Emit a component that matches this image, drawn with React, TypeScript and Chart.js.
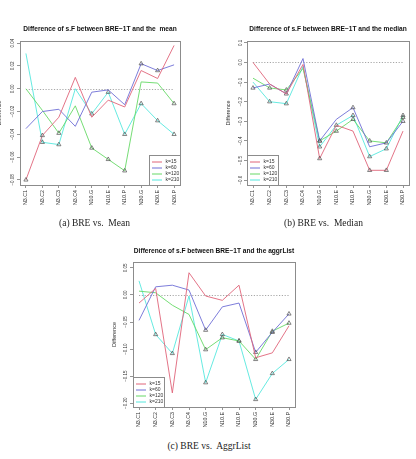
import React, { useEffect, useRef } from "react";
import { Chart, registerables } from "chart.js";

Chart.register(...registerables);

// Shared categories and series
const categories = ["N3.C1", "N3.C2", "N3.C3", "N3.C4", "N10.G", "N10.E", "N10.P", "N30.G", "N30.E", "N30.P"];
const seriesLabels = ["k=15", "k=60", "k=120", "k=210"];

// (a) difference against the mean
const meanK15 = [-0.080, -0.041, -0.025, 0.010, -0.025, -0.010, -0.016, 0.016, 0.009, 0.038];
const meanK60 = [-0.035, -0.020, -0.018, -0.033, -0.003, -0.001, -0.014, 0.022, 0.016, 0.021];
const meanK120 = [0.000, -0.019, -0.039, -0.015, -0.052, -0.062, -0.072, 0.006, 0.005, -0.013];
const meanK210 = [0.031, -0.047, -0.049, 0.000, -0.022, -0.003, -0.040, -0.013, -0.028, -0.040];
const meanMarks = [
  [1, 1, 0, 0, 0, 0, 0, 0, 0, 0],
  [0, 0, 0, 0, 0, 0, 0, 1, 1, 0],
  [0, 0, 1, 0, 1, 1, 1, 0, 0, 1],
  [0, 1, 1, 0, 1, 1, 1, 1, 1, 1],
];
const meanTicks = [-0.08, -0.06, -0.04, -0.02, 0, 0.02, 0.04];

// (b) difference against the median
const medianK15 = [0.00, -0.11, -0.16, -0.01, -0.49, -0.32, -0.35, -0.55, -0.55, -0.35];
const medianK60 = [-0.13, -0.11, -0.16, 0.02, -0.40, -0.29, -0.23, -0.43, -0.41, -0.30];
const medianK120 = [-0.08, -0.13, -0.14, -0.03, -0.40, -0.35, -0.29, -0.40, -0.41, -0.28];
const medianK210 = [-0.10, -0.20, -0.21, -0.02, -0.43, -0.32, -0.27, -0.48, -0.44, -0.27];
const medianMarks = [
  [0, 0, 0, 0, 1, 0, 0, 1, 1, 0],
  [1, 0, 1, 0, 1, 0, 1, 0, 1, 1],
  [0, 1, 1, 0, 1, 1, 1, 1, 0, 1],
  [0, 1, 1, 0, 1, 1, 1, 1, 1, 1],
];
const medianTicks = [-0.6, -0.5, -0.4, -0.3, -0.2, -0.1, 0, 0.1];

// (c) difference against the aggregated list
const aggrK15 = [-0.015, 0.012, -0.181, 0.041, -0.002, -0.010, 0.018, -0.116, -0.107, -0.057];
const aggrK60 = [-0.047, 0.015, 0.018, 0.009, -0.065, -0.022, -0.015, -0.106, -0.069, -0.035];
const aggrK120 = [0.007, 0.004, -0.019, -0.036, -0.101, -0.079, -0.085, -0.119, -0.067, -0.052];
const aggrK210 = [0.026, -0.073, -0.108, -0.002, -0.162, -0.073, -0.085, -0.193, -0.145, -0.119];
const aggrMarks = [
  [0, 0, 0, 0, 0, 0, 0, 0, 0, 0],
  [0, 0, 0, 0, 1, 0, 0, 1, 1, 1],
  [0, 0, 0, 0, 1, 1, 1, 1, 1, 1],
  [0, 1, 1, 0, 1, 1, 1, 1, 1, 1],
];
const aggrTicks = [-0.2, -0.15, -0.1, -0.05, 0, 0.05];

const seriesColors = ["#e06479", "#6e6ed6", "#66d966", "#55e8de"];
const SANS = "'Liberation Sans', Arial, sans-serif";
const SERIF = "'Liberation Serif', 'Times New Roman', serif";

function fmt(v: number, d: number): string {
  const s = Math.abs(v) < 1e-9 ? (0).toFixed(d) : v.toFixed(d);
  return s.replace("-", "\u2212");
}

// Box around the plotting region
const framePlugin = {
  id: "frame",
  afterDraw(chart: any) {
    const { ctx, chartArea: a } = chart;
    ctx.save();
    ctx.strokeStyle = "#8c8c8c";
    ctx.lineWidth = 1;
    ctx.strokeRect(Math.round(a.left) + 0.5, Math.round(a.top) + 0.5, Math.round(a.right - a.left), Math.round(a.bottom - a.top));
    ctx.restore();
  },
};

// Dotted reference line at zero, spanning the categories
const zeroLinePlugin = {
  id: "zeroLine",
  beforeDatasetsDraw(chart: any) {
    const { ctx, scales } = chart;
    const y = Math.round(scales.y.getPixelForValue(0)) + 0.5;
    ctx.save();
    ctx.strokeStyle = "#909090";
    ctx.lineWidth = 0.8;
    ctx.setLineDash([1.2, 1.6]);
    ctx.beginPath();
    ctx.moveTo(scales.x.getPixelForValue(0), y);
    ctx.lineTo(scales.x.getPixelForValue(categories.length - 1), y);
    ctx.stroke();
    ctx.restore();
  },
};

// Boxed legend placed in a corner of the plotting region
const boxLegendPlugin = {
  id: "boxLegend",
  afterDatasetsDraw(chart: any, _args: any, opts: any) {
    const { ctx, chartArea: a } = chart;
    const w = 31;
    const h = 30;
    const x0 = Math.round(opts.corner === "bottomright" ? a.right - w : a.left) + 0.5;
    const y0 = Math.round(a.bottom - h) + 0.5;
    ctx.save();
    ctx.fillStyle = "#ffffff";
    ctx.fillRect(x0, y0, w, h);
    ctx.strokeStyle = "#8c8c8c";
    ctx.lineWidth = 1;
    ctx.strokeRect(x0, y0, w, h);
    ctx.font = `5px ${SANS}`;
    ctx.textBaseline = "middle";
    ctx.textAlign = "left";
    chart.data.datasets.forEach((ds: any, i: number) => {
      const y = y0 + 6.5 + i * 6;
      ctx.strokeStyle = ds.borderColor;
      ctx.lineWidth = 1;
      ctx.beginPath();
      ctx.moveTo(x0 + 2.5, y);
      ctx.lineTo(x0 + 12.5, y);
      ctx.stroke();
      ctx.fillStyle = "#333333";
      ctx.fillText(ds.label, x0 + 16, y);
    });
    ctx.restore();
  },
};

type Panel = {
  title: string;
  series: number[][];
  marks: number[][];
  yMin: number;
  yMax: number;
  yTicks: number[];
  decimals: number;
  corner: "bottomleft" | "bottomright";
  // placement of the canvas on the page
  left: number;
  top: number;
  width: number;
  height: number;
  yAxisWidth: number;
  padRight: number;
  titleTop: number;
  titleBottom: number;
  yTitleOffset: number;
};

function PanelChart({ p }: { p: Panel }) {
  const ref = useRef<HTMLCanvasElement | null>(null);

  useEffect(() => {
    if (!ref.current) return;
    const datasets = p.series.map((vals, si) => ({
      label: seriesLabels[si],
      data: vals.map((v, i) => ({ x: i, y: v })),
      borderColor: seriesColors[si],
      borderWidth: 0.9,
      tension: 0,
      fill: false,
      pointStyle: "triangle",
      pointRadius: p.marks[si].map((m) => (m ? 2.4 : 0)),
      pointBorderColor: "#505050",
      pointBackgroundColor: "rgba(0,0,0,0)",
      pointBorderWidth: 0.7,
    }));

    const chart = new Chart(ref.current, {
      type: "line",
      data: { datasets },
      options: {
        responsive: false,
        animation: false,
        events: [],
        layout: { padding: { left: 0, right: p.padRight, top: 0, bottom: 0 } },
        scales: {
          x: {
            type: "linear",
            min: -0.36,
            max: categories.length - 1 + 0.36,
            afterBuildTicks: (s: any) => {
              s.ticks = categories.map((_, i) => ({ value: i }));
            },
            afterFit: (s: any) => {
              s.height = 30;
            },
            ticks: {
              autoSkip: false,
              minRotation: 90,
              maxRotation: 90,
              padding: 2,
              color: "#333333",
              font: { family: SANS, size: 5.3 },
              callback: (v: any) => categories[Math.round(Number(v))] ?? "",
            },
            grid: { display: true, drawOnChartArea: false, drawTicks: true, tickLength: 3, color: "#7a7a7a", lineWidth: 0.8 },
            border: { display: false },
          },
          y: {
            type: "linear",
            min: p.yMin,
            max: p.yMax,
            afterBuildTicks: (s: any) => {
              s.ticks = p.yTicks.map((v) => ({ value: v }));
            },
            afterFit: (s: any) => {
              s.width = p.yAxisWidth;
            },
            ticks: {
              autoSkip: false,
              minRotation: 90,
              maxRotation: 90,
              crossAlign: "center",
              padding: -1,
              color: "#333333",
              font: { family: SANS, size: 4.5 },
              callback: (v: any) => fmt(Number(v), p.decimals),
            },
            title: {
              display: true,
              text: "Difference",
              color: "#333333",
              font: { family: SANS, size: 5.5 },
              padding: { top: p.yTitleOffset, bottom: 0 },
            },
            grid: { display: true, drawOnChartArea: false, drawTicks: true, tickLength: 3, color: "#7a7a7a", lineWidth: 0.8 },
            border: { display: false },
          },
        },
        plugins: {
          legend: { display: false },
          tooltip: { enabled: false },
          title: {
            display: true,
            text: p.title,
            fullSize: false,
            color: "#111111",
            font: { family: SANS, size: 6.6, weight: "bold", lineHeight: 1.2 },
            padding: { top: p.titleTop, bottom: p.titleBottom },
          },
          boxLegend: { corner: p.corner },
        } as any,
      },
      plugins: [zeroLinePlugin, boxLegendPlugin, framePlugin],
    } as any);

    return () => chart.destroy();
  }, [p]);

  return (
    <canvas
      ref={ref}
      width={p.width}
      height={p.height}
      style={{ position: "absolute", left: p.left, top: p.top, width: p.width, height: p.height }}
    />
  );
}

const panels: Panel[] = [
  {
    title: "Difference of s.F between BRE\u22121T and the  mean",
    series: [meanK15, meanK60, meanK120, meanK210],
    marks: meanMarks,
    yMin: -0.0845,
    yMax: 0.042,
    yTicks: meanTicks,
    decimals: 2,
    corner: "bottomright",
    left: -4,
    top: 0,
    width: 204,
    height: 215,
    yAxisWidth: 24,
    padRight: 20,
    titleTop: 25,
    titleBottom: 8,
    yTitleOffset: 0.2,
  },
  {
    title: "Difference of s.F between BRE\u22121T and the median",
    series: [medianK15, medianK60, medianK120, medianK210],
    marks: medianMarks,
    yMin: -0.625,
    yMax: 0.11,
    yTicks: medianTicks,
    decimals: 1,
    corner: "bottomleft",
    left: 208,
    top: 0,
    width: 208,
    height: 215,
    yAxisWidth: 39,
    padRight: 7,
    titleTop: 25,
    titleBottom: 8,
    yTitleOffset: 17,
  },
  {
    title: "Difference of s.F between BRE\u22121T and the aggrList",
    series: [aggrK15, aggrK60, aggrK120, aggrK210],
    marks: aggrMarks,
    yMin: -0.207,
    yMax: 0.061,
    yTicks: aggrTicks,
    decimals: 2,
    corner: "bottomleft",
    left: 100,
    top: 215,
    width: 216,
    height: 222,
    yAxisWidth: 33,
    padRight: 21,
    titleTop: 32,
    titleBottom: 7,
    yTitleOffset: 10.7,
  },
];

const captions = [
  { text: "(a) BRE vs.\u00a0 Mean", center: 94.5, middle: 222.5 },
  { text: "(b) BRE vs.\u00a0 Median", center: 323.5, middle: 222.5 },
  { text: "(c) BRE vs.\u00a0 AggrList", center: 209, middle: 446 },
];

export default function App() {
  return (
    <div
      style={{
        position: "absolute",
        left: 0,
        top: 0,
        width: 416,
        height: 459,
        overflow: "hidden",
        background: "#ffffff",
      }}
    >
      {panels.map((p, i) => (
        <PanelChart key={i} p={p} />
      ))}
      {captions.map((c, i) => (
        <div
          key={"cap" + i}
          style={{
            position: "absolute",
            left: c.center - 100,
            top: c.middle - 6,
            width: 200,
            height: 12,
            lineHeight: "12px",
            textAlign: "center",
            fontFamily: SERIF,
            fontSize: 9.5,
            color: "#222222",
            whiteSpace: "nowrap",
          }}
        >
          {c.text}
        </div>
      ))}
    </div>
  );
}
